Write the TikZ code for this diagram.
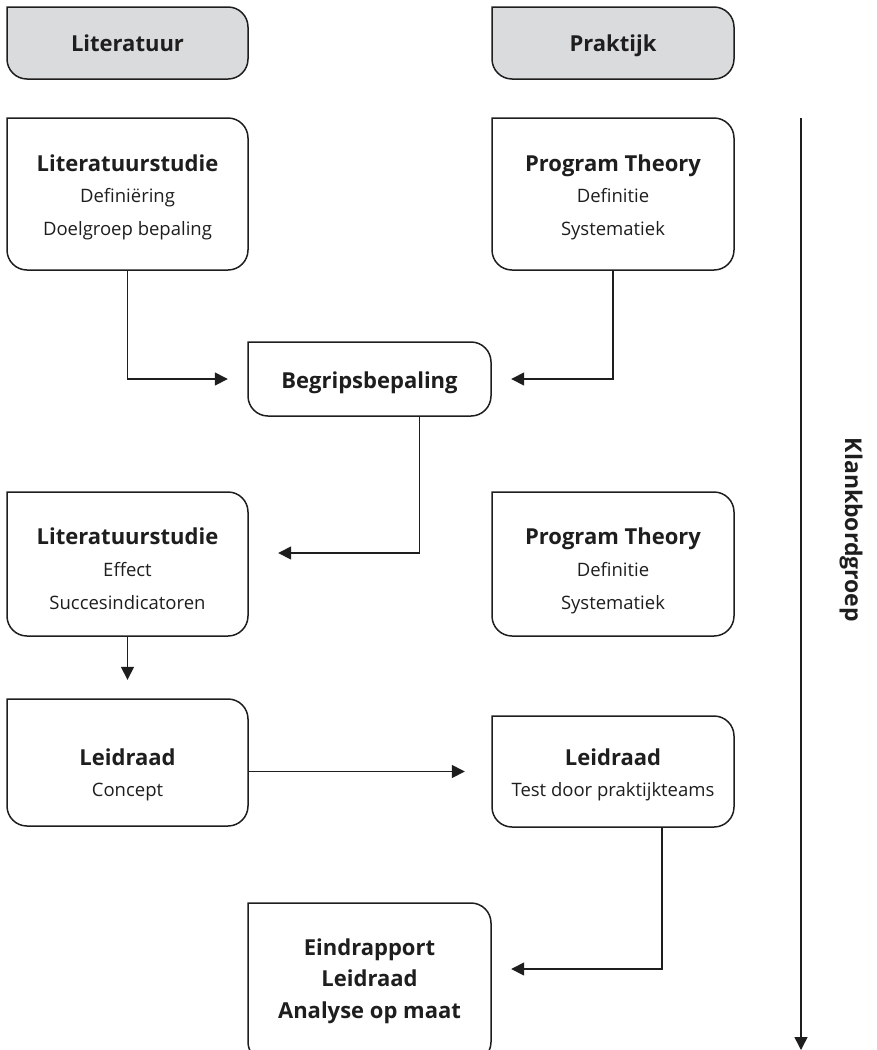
\documentclass[tikz,border=0pt]{standalone}
\usepackage{fontspec}
\setmainfont{Open Sans}
\usetikzlibrary{arrows.meta}
\definecolor{hdr}{RGB}{217,219,220}
\definecolor{ink}{RGB}{30,30,30}
\tikzset{
  boxline/.style={draw=ink, line width=1.5pt},
  ttl/.style={anchor=base, inner sep=0, font=\bfseries\fontsize{22}{26}\selectfont, text=ink},
  sub/.style={anchor=base, inner sep=0, font=\fontsize{18.5}{22}\selectfont, text=ink},
  arr/.style={draw=ink, line width=1.5pt, -{Triangle[length=13pt,width=13pt]}},
}
\newcommand\rbox[6]{%
  \filldraw[boxline, fill=#6] (#2,#3) -- ({#4-20},#3) arc[start angle=-90,end angle=0,radius=20]
    -- (#4,{#5-20}) arc[start angle=0,end angle=90,radius=20]
    -- ({#2+20},#5) arc[start angle=90,end angle=180,radius=20] -- cycle;
  \node[inner sep=0, minimum width={#4-#2}, minimum height={#5-#3}] (#1) at ({(#2+#4)/2},{(#3+#5)/2}) {};
}
\begin{document}
\begin{tikzpicture}[x=1pt,y=-1pt]
\useasboundingbox (0,0) rectangle (876,1050);
\clip (0,0) rectangle (876,1050);
% headers
\rbox{hL}{7}{7}{248}{79}{hdr}
\rbox{hP}{492}{7}{734}{79}{hdr}
\node[ttl] (thL) at (127.5,51) {Literatuur};
\node[ttl] (thP) at (613,51) {Praktijk};
% row 1
\rbox{b1}{7}{118}{248}{270}{white}
\node[ttl] (t1a) at (127.5,171) {Literatuurstudie};
\node[sub] (t1b) at (127.5,202) {Definiëring};
\node[sub] (t1c) at (127.5,235) {Doelgroep bepaling};
\rbox{b2}{492}{118}{734}{270}{white}
\node[ttl] (t2a) at (613,171) {Program Theory};
\node[sub] (t2b) at (613,202) {Definitie};
\node[sub] (t2c) at (613,235) {Systematiek};
% begripsbepaling
\rbox{beg}{248}{342}{491}{416}{white}
\node[ttl] (tbeg) at (369.5,388) {Begripsbepaling};
% row 2
\rbox{l2}{7}{492}{248}{636}{white}
\node[ttl] (t3a) at (127.5,544) {Literatuurstudie};
\node[sub] (t3b) at (127.5,576) {Effect};
\node[sub] (t3c) at (127.5,609) {Succesindicatoren};
\rbox{p2}{492}{492}{734}{636}{white}
\node[ttl] (t4a) at (613,544) {Program Theory};
\node[sub] (t4b) at (613,576) {Definitie};
\node[sub] (t4c) at (613,609) {Systematiek};
% row 3
\rbox{ld1}{7}{699}{248}{826}{white}
\node[ttl] (t5a) at (127.5,765) {Leidraad};
\node[sub] (t5b) at (127.5,796) {Concept};
\rbox{ld2}{492}{716}{734}{827}{white}
\node[ttl] (t6a) at (613,765) {Leidraad};
\node[sub] (t6b) at (613,796) {Test door praktijkteams};
% final
\rbox{ein}{248}{903}{491}{1062}{white}
\node[ttl] (t7a) at (369.5,955) {Eindrapport};
\node[ttl] (t7b) at (369.5,986) {Leidraad};
\node[ttl] (t7c) at (369.5,1018) {Analyse op maat};
% connectors
\draw[arr] (b1.south) |- ([xshift=-20pt]beg.west);
\draw[arr] (b2.south) |- ([xshift=20pt]beg.east);
\draw[arr] ([xshift=50pt]beg.south) |- ([xshift=30pt,yshift=11pt]l2.east);
\draw[arr] (l2.south) -- ([yshift=19pt]ld1.north);
\draw[arr] (ld1.east |- ld2.west) -- ([xshift=-27pt]ld2.west);
\draw[arr] ([xshift=49pt]ld2.south) |- ([xshift=20pt,yshift=13.5pt]ein.east);
% klankbordgroep
\coordinate (k1) at (801,118);
\coordinate (k2) at (801,1050);
\draw[arr] (k1) -- (k2);
\node[font=\bfseries\fontsize{23}{27}\selectfont, text=ink, rotate=-90, inner sep=0] (kl) at (851,530) {Klankbordgroep};
\end{tikzpicture}
\end{document}
